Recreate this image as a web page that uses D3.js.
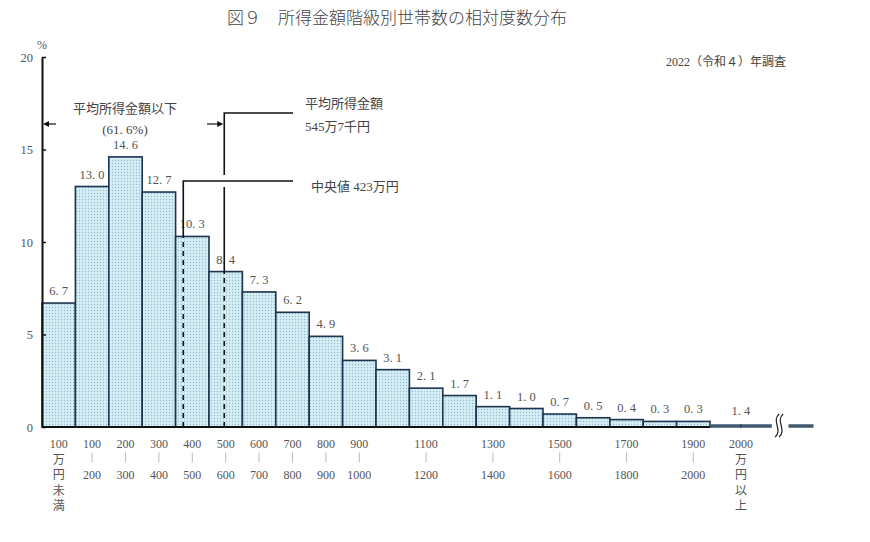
<!DOCTYPE html>
<html>
<head>
<meta charset="utf-8">
<script src="https://cdn.jsdelivr.net/npm/d3@7"></script>
<style>
  body { margin: 0; background: #fff; }
  svg text { font-family: "Liberation Serif", "Noto Sans CJK JP", serif; }
</style>
</head>
<body>
<div id="chart"></div>
<script>
// DATA //
var lowerBounds = [0, 100, 200, 300, 400, 500, 600, 700, 800, 900, 1000, 1100, 1200, 1300, 1400, 1500, 1600, 1700, 1800, 1900];
var shares = [6.7, 13.0, 14.6, 12.7, 10.3, 8.4, 7.3, 6.2, 4.9, 3.6, 3.1, 2.1, 1.7, 1.1, 1.0, 0.7, 0.5, 0.4, 0.3, 0.3];
var topShare = 1.4;   // 2000万円以上
var binLabels = [
	['100', '万', '円', '未', '満'],
	['100', '|', '200'], ['200', '|', '300'], ['300', '|', '400'], ['400', '|', '500'],
	['500', '|', '600'], ['600', '|', '700'], ['700', '|', '800'], ['800', '|', '900'],
	['900', '|', '1000'], null, ['1100', '|', '1200'], null, ['1300', '|', '1400'], null,
	['1500', '|', '1600'], null, ['1700', '|', '1800'], null, ['1900', '|', '2000']
];
var topLabel = ['2000', '万', '円', '以', '上'];
var yTicks = [0, 5, 10, 15, 20];
var meanIncome = 545.7, medianIncome = 423, belowMeanShare = 61.6;

var W = 870, H = 542;

var svg = d3.select('#chart').append('svg')
	.attr('width', W).attr('height', H)
	.attr('viewBox', '0 0 ' + W + ' ' + H);

// dotted fill
var pat = svg.append('defs').append('pattern')
	.attr('id', 'dots').attr('width', 3).attr('height', 3)
	.attr('patternUnits', 'userSpaceOnUse');
pat.append('rect').attr('width', 3).attr('height', 3).attr('fill', '#d5eef6');
pat.append('circle').attr('cx', 1.5).attr('cy', 1.5).attr('r', 0.7).attr('fill', '#93bccd');

var x = d3.scaleLinear().domain([0, 2000]).range([42, 710]);
var y = d3.scaleLinear().domain([0, 20]).range([427, 57]);
var fmt = function (v) { return d3.format('.1f')(v).replace('.', '. '); };
var grey = '#555';

// title
svg.append('text').attr('x', 227).attr('y', 24)
	.attr('font-size', 17).attr('fill', '#444').attr('font-weight', 300)
	.text('図９　所得金額階級別世帯数の相対度数分布');
svg.append('text').attr('x', 786).attr('y', 66).attr('text-anchor', 'end')
	.attr('font-size', 12).attr('fill', '#444')
	.text('2022（令和４）年調査');

// bars
var bars = svg.append('g');
bars.selectAll('rect').data(shares).enter().append('rect')
	.attr('x', function (d, i) { return x(lowerBounds[i]); })
	.attr('width', function (d, i) { return x(lowerBounds[i] + 100) - x(lowerBounds[i]); })
	.attr('y', function (d) { return y(d); })
	.attr('height', function (d) { return y(0) - y(d); })
	.attr('fill', 'url(#dots)')
	.attr('stroke', '#1d3450').attr('stroke-width', 1.6);

bars.selectAll('text.val').data(shares).enter().append('text')
	.attr('class', 'val')
	.attr('x', function (d, i) { return x(lowerBounds[i] + 50); })
	.attr('y', function (d) { return y(d) - 8; })
	.attr('text-anchor', 'middle').attr('font-size', 12.5).attr('fill', grey)
	.text(fmt);

// 2000万円以上: flat tail with axis break
var tailEnd = x(2185), tail2Start = x(2235), tail2End = x(2310);
var tailMid = (x(2000) + tailEnd) / 2;
svg.append('line').attr('x1', x(2000)).attr('x2', tailEnd)
	.attr('y1', y(0) - 1).attr('y2', y(0) - 1)
	.attr('stroke', '#3e5870').attr('stroke-width', 3.5);
svg.append('line').attr('x1', tailMid).attr('x2', tailMid)
	.attr('y1', y(0) - 3).attr('y2', y(0) + 1)
	.attr('stroke', '#1d3450').attr('stroke-width', 1);
svg.append('line').attr('x1', tail2Start).attr('x2', tail2End)
	.attr('y1', y(0) - 1).attr('y2', y(0) - 1)
	.attr('stroke', '#3e5870').attr('stroke-width', 3.5);
[0, 4].forEach(function (o) {
	var cx = x(2207) + o - 2, b = y(0) - 1;
	svg.append('path')
		.attr('d', 'M' + (cx + 2) + ',' + (b - 12) + ' C' + (cx - 6) + ',' + (b - 5) + ' ' + (cx + 6) + ',' + (b + 4) + ' ' + (cx - 2) + ',' + (b + 11))
		.attr('fill', 'none').attr('stroke', '#222').attr('stroke-width', 1.2);
});
svg.append('text').attr('x', tailMid).attr('y', y(0) - 12)
	.attr('text-anchor', 'middle').attr('font-size', 12.5).attr('fill', grey)
	.text(fmt(topShare));

// baseline
svg.append('line').attr('x1', x(0)).attr('x2', x(2000))
	.attr('y1', y(0)).attr('y2', y(0))
	.attr('stroke', '#111').attr('stroke-width', 2);

// y axis
var yAxis = svg.append('g').attr('transform', 'translate(' + x(0) + ',0)')
	.call(d3.axisLeft(y).tickValues(yTicks).tickSizeInner(-4).tickSizeOuter(0).tickPadding(9));
yAxis.select('.domain').attr('stroke', '#111').attr('stroke-width', 2);
yAxis.selectAll('.tick line').attr('stroke', '#111').attr('stroke-width', 1.5);
yAxis.selectAll('.tick text').attr('font-size', 12.5).attr('fill', grey)
	.style('font-family', '"Liberation Serif", serif');
svg.append('text').attr('x', 42).attr('y', 49).attr('text-anchor', 'middle')
	.attr('font-size', 12).attr('fill', grey).text('%');

// x category labels
function drawLabel(lines, cx) {
	var g = svg.append('g').attr('transform', 'translate(' + cx + ',0)');
	lines.forEach(function (s, k) {
		var yy = 448 + k * 15.5;
		if (s === '|') {
			g.append('line').attr('x1', 0).attr('x2', 0).attr('y1', yy - 11).attr('y2', yy - 1)
				.attr('stroke', '#bbb').attr('stroke-width', 1);
		} else {
			g.append('text').attr('y', yy).attr('text-anchor', 'middle')
				.attr('font-size', 12).attr('fill', grey).text(s);
		}
	});
}
binLabels.forEach(function (lines, i) {
	if (lines) drawLabel(lines, x(lowerBounds[i] + 50));
});
drawLabel(topLabel, tailMid);

// median & mean markers
var xm = x(meanIncome), xmed = x(medianIncome);
var bin = function (v) { return shares[Math.floor(v / 100)]; };
var ann = svg.append('g').attr('stroke', '#111').attr('fill', 'none');
ann.append('line').attr('x1', xmed).attr('x2', xmed).attr('y1', y(0)).attr('y2', y(bin(medianIncome)))
	.attr('stroke-width', 1.6).attr('stroke-dasharray', '5,4');
ann.append('line').attr('x1', xm).attr('x2', xm).attr('y1', y(0)).attr('y2', y(bin(meanIncome)))
	.attr('stroke-width', 1.6).attr('stroke-dasharray', '5,4');
// median leader
ann.append('path').attr('stroke-width', 1.6)
	.attr('d', 'M' + xmed + ',' + y(bin(medianIncome)) + 'V181H293');
// mean leader, broken where it crosses the median leader
ann.append('path').attr('stroke-width', 1.6)
	.attr('d', 'M' + xm + ',' + y(bin(meanIncome)) + 'V187M' + xm + ',175V113H293');
// arrows
ann.append('line').attr('x1', 56).attr('x2', x(0) + 5).attr('y1', 124).attr('y2', 124).attr('stroke-width', 1.2);
ann.append('line').attr('x1', 207).attr('x2', xm - 5).attr('y1', 124).attr('y2', 124).attr('stroke-width', 1.2);
svg.append('path').attr('fill', '#111')
	.attr('d', 'M' + (x(0) + 1) + ',124l6,-3v6z');
svg.append('path').attr('fill', '#111')
	.attr('d', 'M' + (xm - 1) + ',124l-6,-3v6z');

svg.append('text').attr('x', 125).attr('y', 113).attr('text-anchor', 'middle')
	.attr('font-size', 13).attr('fill', '#444').text('平均所得金額以下');
svg.append('text').attr('x', 125).attr('y', 134).attr('text-anchor', 'middle')
	.attr('font-size', 13).attr('fill', '#444').text('(' + belowMeanShare.toFixed(1).replace('.', '. ') + '%)');
svg.append('text').attr('x', 305).attr('y', 108)
	.attr('font-size', 13).attr('fill', '#444').text('平均所得金額');
svg.append('text').attr('x', 305).attr('y', 131)
	.attr('font-size', 13).attr('fill', '#444').text('545万7千円');
svg.append('text').attr('x', 311).attr('y', 191)
	.attr('font-size', 13).attr('fill', '#444').text('中央値 ' + medianIncome + '万円');
</script>
</body>
</html>
